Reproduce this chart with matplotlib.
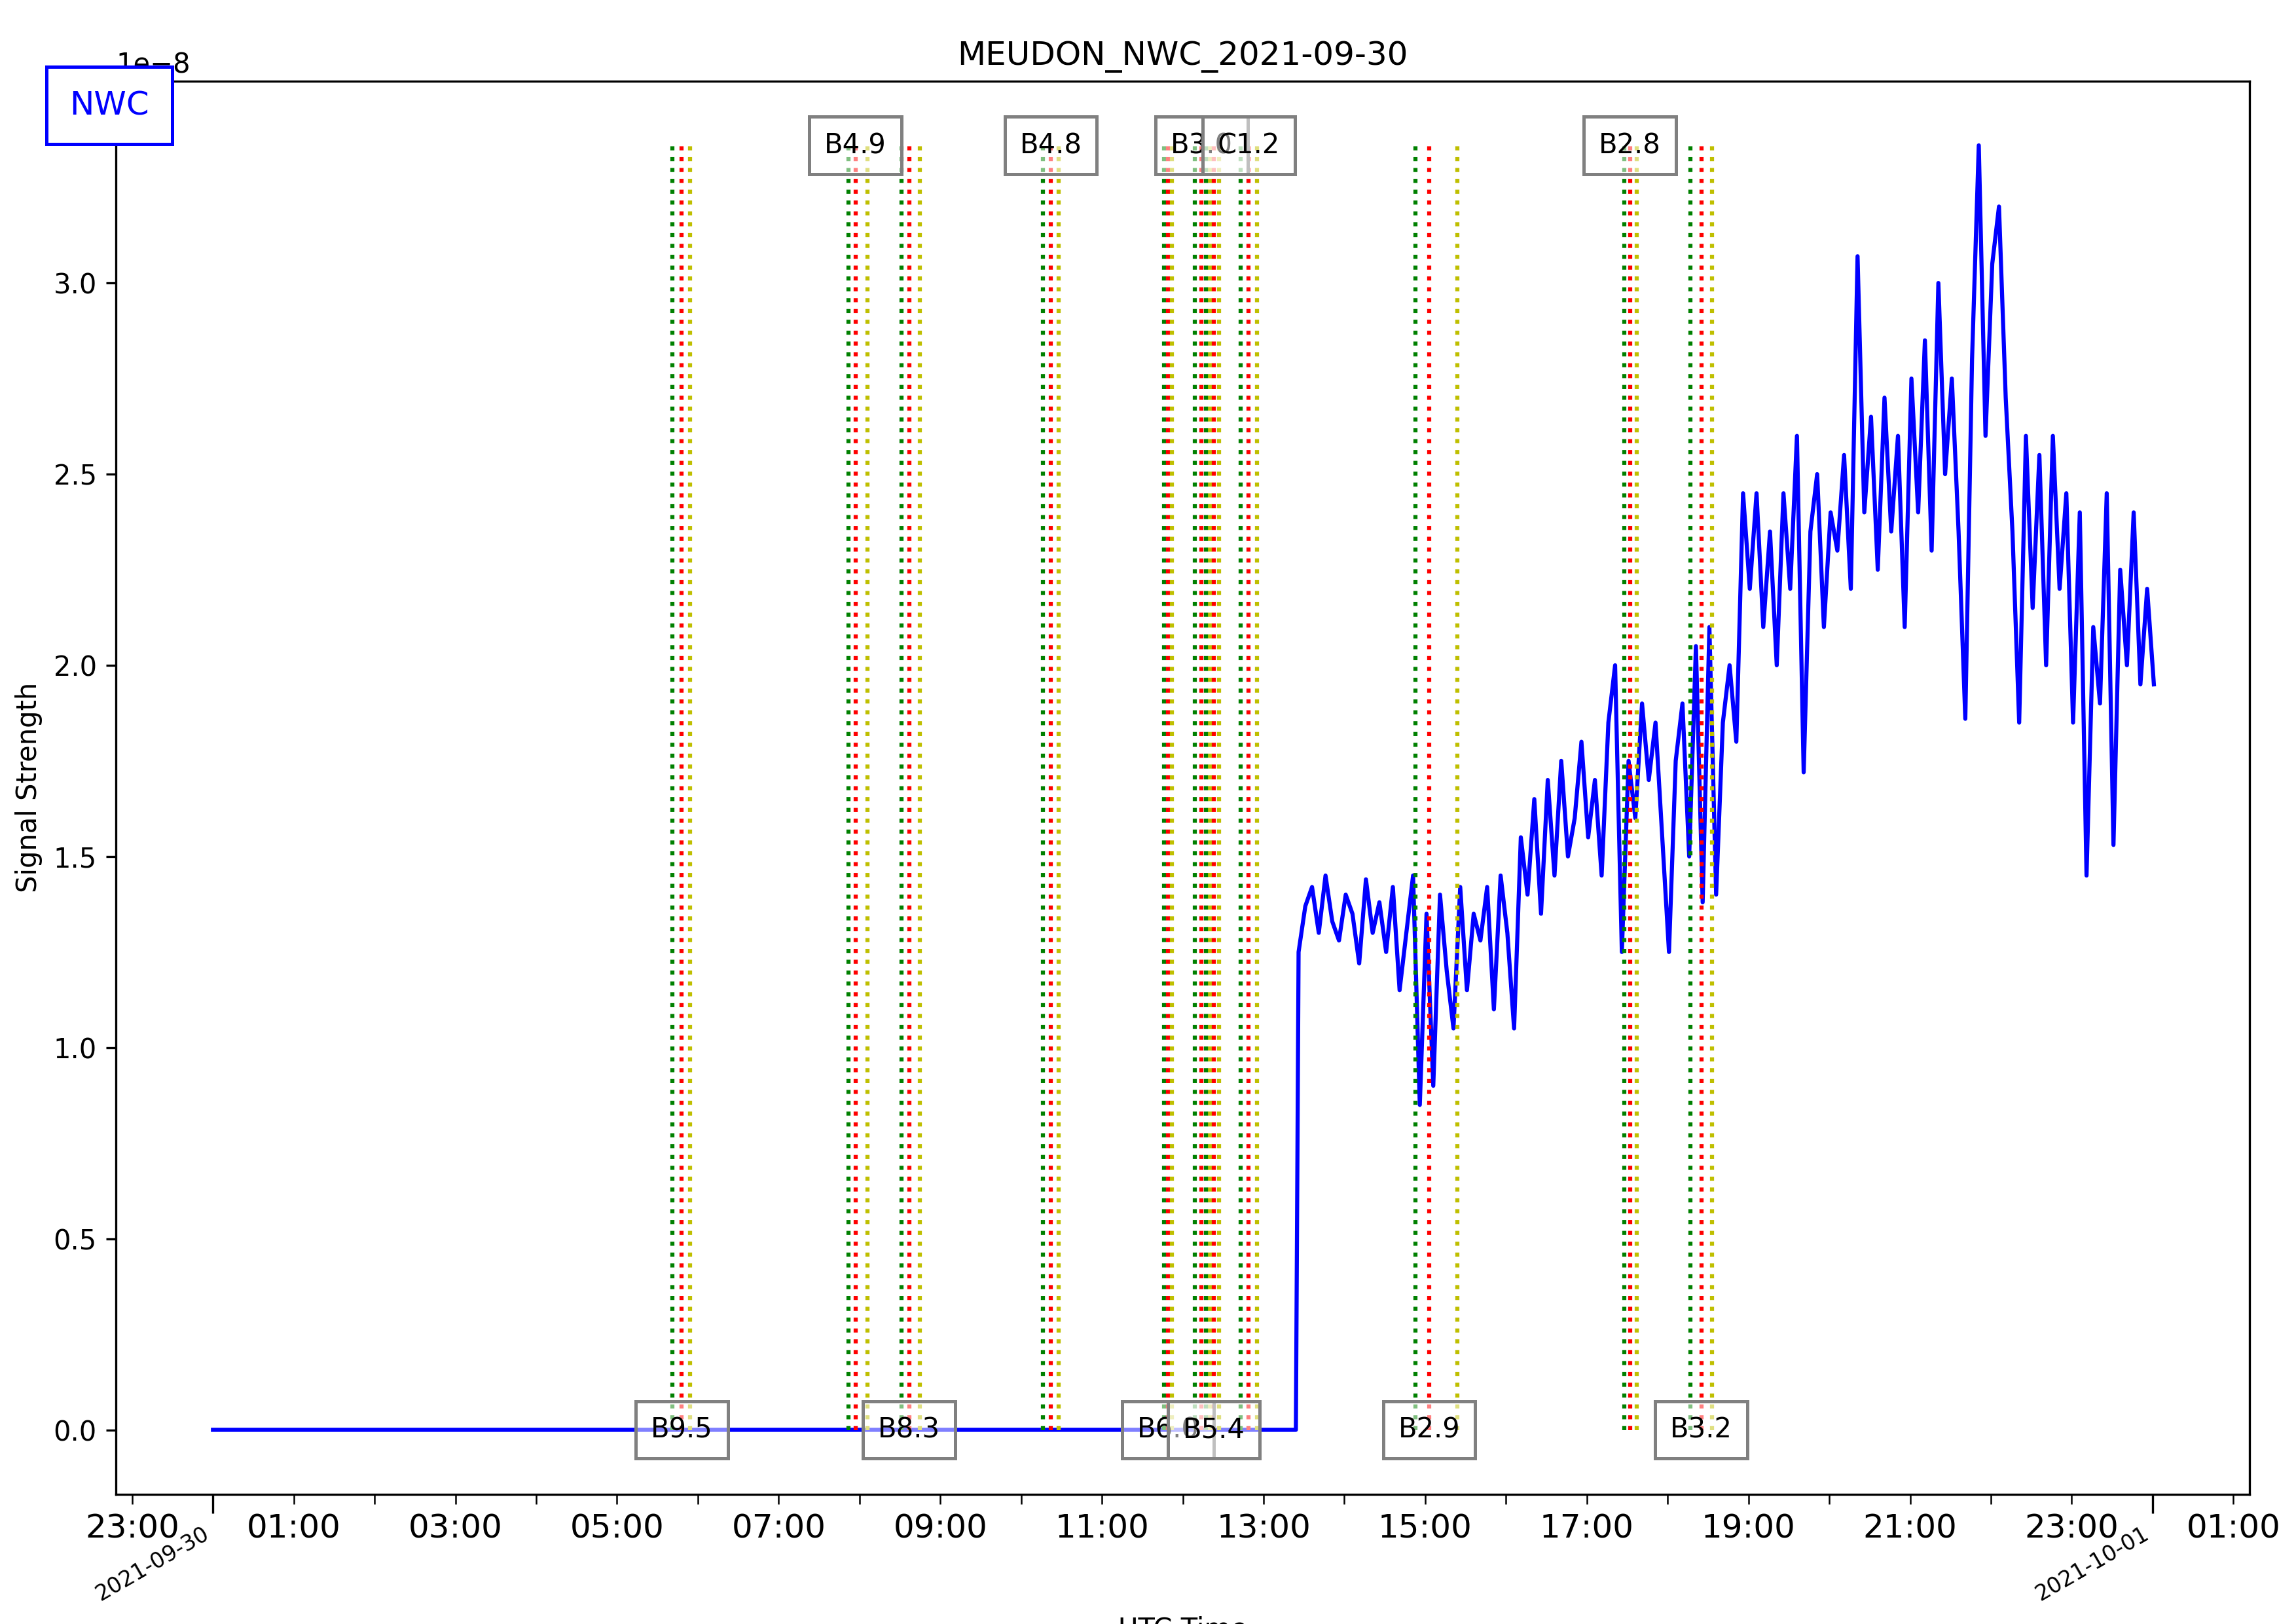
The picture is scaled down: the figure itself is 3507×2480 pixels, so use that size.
import matplotlib
matplotlib.use("Agg")
import matplotlib.pyplot as plt
import matplotlib.dates as mdates
import numpy as np
import pandas as pd

title = "MEUDON_NWC_2021-09-30"
station = "NWC"
day = "2021-09-30"

# quiet period (signal zero)
zero_times = ["00:00", "13:24"]
zero_vals = [0.0, 0.0]
# signal from 13:26 every 5 min (x1e-8)
sig_start = "13:26"
sig_vals = [1.25,1.37,1.42,1.30,1.45,1.33,1.28,1.40,
            1.35,1.22,1.44,1.30,1.38,1.25,
            1.42,1.15,1.30,1.45,0.85,1.35,
            0.90,1.40,1.20,1.05,1.42,1.15,
            1.35,1.28,1.42,1.10,1.45,1.30,
            1.05,1.55,1.40,1.65,1.35,1.70,
            1.45,1.75,1.50,1.60,1.80,1.55,
            1.70,1.45,1.85,2.00,1.25,1.75,
            1.60,1.90,1.70,1.85,1.55,1.25,
            1.75,1.90,1.50,2.05,1.38,2.10,
            1.40,1.85,2.00,1.80,2.45,2.20,
            2.45,2.10,2.35,2.00,2.45,2.20,
            2.60,1.72,2.35,2.50,2.10,2.40,
            2.30,2.55,2.20,3.07,2.40,2.65,
            2.25,2.70,2.35,2.60,2.10,2.75,
            2.40,2.85,2.30,3.00,2.50,2.75,
            2.35,1.86,2.80,3.36,2.60,3.05,
            3.20,2.70,2.35,1.85,2.60,2.15,
            2.55,2.00,2.60,2.20,2.45,1.85,
            2.40,1.45,2.10,1.90,2.45,1.53,
            2.25,2.00,2.40,1.95,2.20,1.95]

flare_labels = ["B9.5","B4.9","B8.3","B4.8","B6.0","B3.0","B5.4","C1.2","B2.9","B2.8","B3.2"]
flare_start = ["05:41","07:52","08:31","10:16","11:46","12:09","12:17","12:43","14:53","17:28","18:17"]
flare_peak  = ["05:48","07:57","08:37","10:22","11:49","12:14","12:23","12:49","15:03","17:32","18:25"]
flare_end   = ["05:54","08:06","08:45","10:28","11:52","12:20","12:27","12:55","15:24","17:37","18:33"]

def T(hm):
    return pd.Timestamp(f"{day} {hm}")

t_zero = [T(h) for h in zero_times]
t_sig = list(pd.date_range(T(sig_start), periods=len(sig_vals), freq="5min"))
times = t_zero + t_sig
vals = np.array(zero_vals + sig_vals) * 1e-8

fig = plt.figure(figsize=(11.693, 8.267), dpi=300)
ax = fig.add_axes([0.0505, 0.080, 0.929, 0.870])
ax.plot(times, vals, color="blue", lw=1.5)
ax.set_xlim(T("00:00") - pd.Timedelta(minutes=72), T("00:00") + pd.Timedelta(hours=24, minutes=72))
ymax = vals.max()
for i, lab in enumerate(flare_labels):
    ax.vlines(T(flare_start[i]), 0, ymax, colors="green", linestyles=":", lw=1.5)
    ax.vlines(T(flare_peak[i]), 0, ymax, colors="red", linestyles=":", lw=1.5)
    ax.vlines(T(flare_end[i]), 0, ymax, colors="y", linestyles=":", lw=1.5)
    yy = ymax if i % 2 == 1 else 0
    ax.text(T(flare_peak[i]), yy, lab, ha="center", va="center", fontsize=10,
            bbox=dict(boxstyle="square,pad=0.55", fc=(1, 1, 1, 0.5), ec="gray", lw=1.2))

ax.set_title(title, fontsize=12)
ax.set_ylabel("Signal Strength", fontsize=10)
ax.set_xlabel("UTC Time", fontsize=10)
ax.xaxis.set_major_locator(mdates.DayLocator())
ax.xaxis.set_major_formatter(mdates.DateFormatter("%Y-%m-%d"))
ax.xaxis.set_minor_locator(mdates.HourLocator())
def minor_fmt(x, pos):
    d = mdates.num2date(x)
    return d.strftime("%H:%M") if d.hour % 2 == 1 else ""
ax.xaxis.set_minor_formatter(plt.FuncFormatter(minor_fmt))
ax.tick_params(axis="x", which="major", labelsize=8, length=7)
ax.tick_params(axis="x", which="minor", labelsize=12, length=3.5)
for lbl in ax.get_xticklabels(which="major"):
    lbl.set_rotation(30)
    lbl.set_ha("right")
ax.tick_params(axis="y", labelsize=10)

fig.text(0.0475, 0.935, station, color="blue", fontsize=12, ha="center", va="center",
         bbox=dict(boxstyle="square,pad=0.7", fc="white", ec="blue", lw=1.2))

fig.savefig("out.png", dpi=300)
